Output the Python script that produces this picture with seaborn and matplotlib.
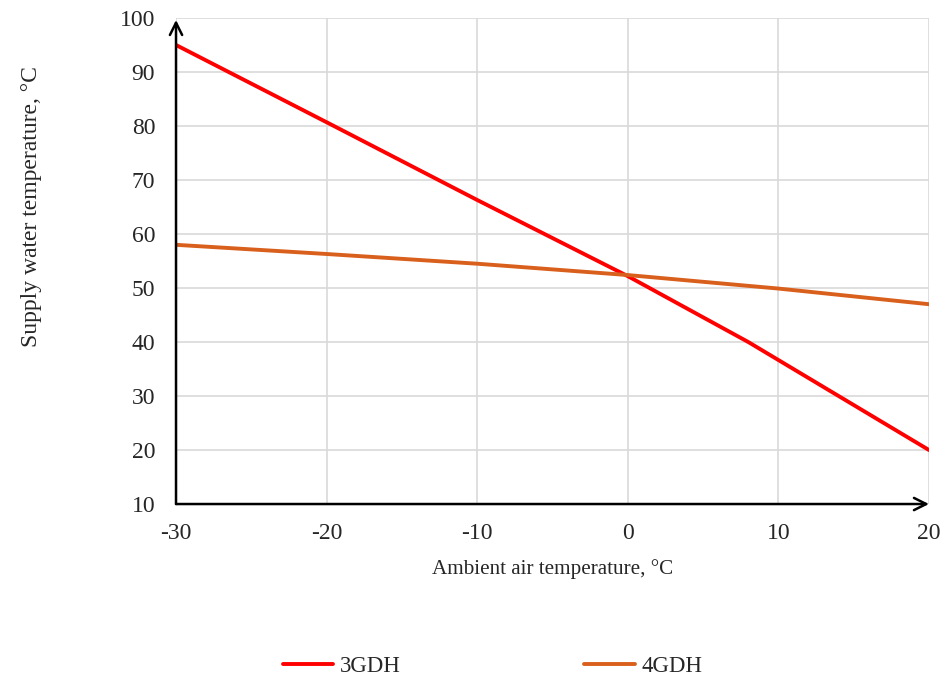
import pandas as pd
import seaborn as sns
import matplotlib.pyplot as plt

# data
ambient = [-30, -20, -10, 0, 8, 20]
gdh3 = [95, 80.7, 66.3, 52.2, 40, 20]
ambient4 = [-30, -20, -10, 0, 10, 20]
gdh4 = [58, 56.3, 54.5, 52.4, 49.9, 47]

df = pd.concat([
    pd.DataFrame({'x': ambient, 'y': gdh3, 'series': '3GDH'}),
    pd.DataFrame({'x': ambient4, 'y': gdh4, 'series': '4GDH'}),
])

sns.set_style("white")
plt.rcParams['font.family'] = ['Liberation Serif', 'DejaVu Serif']
plt.rcParams['axes.unicode_minus'] = False

fig = plt.figure(figsize=(9.53, 6.77), dpi=100)
ax = fig.add_axes([0.1847, 0.2555, 0.7901, 0.7179])

sns.lineplot(data=df, x='x', y='y', hue='series', palette={'3GDH': '#ff0000', '4GDH': '#d95f1c'},
             linewidth=2.8, ax=ax, legend=False, sort=False)

ax.set_xlim(-30, 20)
ax.set_ylim(10, 100)
ax.set_xticks(range(-30, 21, 10))
ax.set_yticks(range(10, 101, 10))
ax.tick_params(labelsize=17, length=0)
ax.tick_params(axis='x', pad=14)
ax.tick_params(axis='y', pad=15)
ax.grid(True, color='#d9d9d9', linewidth=1.2)
ax.set_axisbelow(True)
for s in ax.spines.values():
    s.set_visible(False)

# axes with open arrows
ax.annotate('', xy=(0, 0.996), xytext=(0, 0), xycoords='axes fraction',
            arrowprops=dict(arrowstyle='->', lw=1.8, color='black', mutation_scale=22, shrinkA=0, shrinkB=0))
ax.annotate('', xy=(1.0, 0), xytext=(0, 0), xycoords='axes fraction',
            arrowprops=dict(arrowstyle='->', lw=1.8, color='black', mutation_scale=22, shrinkA=0, shrinkB=0))

ax.set_xlabel('Ambient air temperature, °C', fontsize=15.2)
ax.set_ylabel('Supply water temperature, °C', fontsize=17)
ax.xaxis.set_label_coords(0.5, -0.113)
ax.yaxis.set_label_coords(-0.178, 0.613)

handles = [plt.Line2D([], [], color='#ff0000', lw=2.8), plt.Line2D([], [], color='#d95f1c', lw=2.8)]
fig.legend(handles, ['3GDH', '4GDH'], loc='center', bbox_to_anchor=(0.517, 0.015), ncol=2,
           frameon=False, fontsize=16.5, handlelength=2.2, handletextpad=0.3, columnspacing=8.0)

fig.savefig('out.png', dpi=100)
